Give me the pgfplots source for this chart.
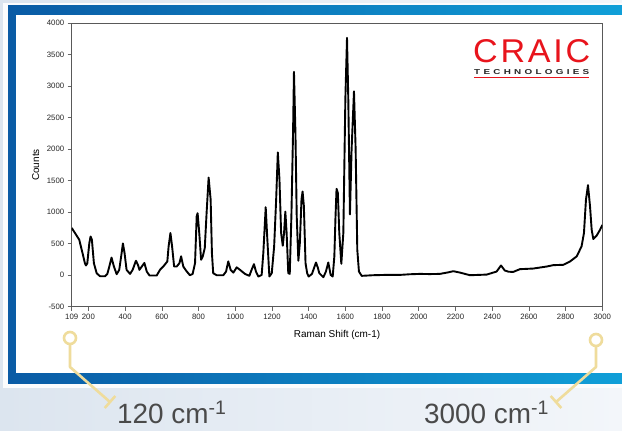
\documentclass[border=0pt]{standalone}
\usepackage{pgfplots}
\pgfplotsset{compat=1.18}
\usepackage{fontspec}
\setmainfont{Liberation Sans}
\usepackage{graphicx}
\definecolor{bgl}{HTML}{DCE5EF}
\definecolor{bgr}{HTML}{F3F6FA}
\definecolor{blueL}{HTML}{0A5BA5}
\definecolor{blueR}{HTML}{109FD8}
\definecolor{gold}{HTML}{EFDC9C}
\definecolor{txtgray}{HTML}{4A4A4A}
\definecolor{logored}{HTML}{E8141C}
\pgfplotstableread{
x y
109 750
127 670
150 564
168 351
181 190
187 155
194 190
205 510
212 615
219 564
230 190
245 32
263 -16
291 -16
303 20
314 138
326 280
339 138
354 16
368 85
381 351
388 505
397 351
408 85
427 21
441 85
459 230
470 165
478 85
491 138
505 195
518 58
533 -5
572 -5
590 85
608 138
630 218
637 457
647 670
656 457
667 138
681 138
696 191
705 300
717 138
732 74
753 0
768 21
781 191
790 936
795 985
804 670
814 245
823 298
834 430
844 990
855 1550
866 1202
873 351
880 32
899 0
917 0
935 0
950 58
962 220
975 85
990 42
1008 125
1026 85
1053 21
1077 -10
1089 85
1102 176
1113 58
1126 -21
1144 5
1153 351
1166 1080
1175 564
1186 -21
1199 32
1212 457
1223 1202
1232 1950
1241 1521
1250 670
1259 468
1266 670
1273 1010
1280 670
1289 32
1297 21
1306 936
1315 2266
1320 3230
1328 2266
1335 936
1344 230
1352 511
1361 1202
1367 1330
1374 1096
1383 191
1392 32
1400 -21
1418 20
1430 120
1440 202
1450 120
1458 32
1480 -32
1494 58
1507 202
1520 5
1531 -21
1540 298
1546 900
1552 1372
1559 1308
1567 670
1578 181
1589 670
1600 2798
1609 3770
1616 2798
1625 965
1634 2000
1647 2920
1656 2000
1665 404
1674 58
1689 -10
1752 0
1820 5
1897 5
1950 15
2006 21
2060 18
2115 21
2160 45
2188 64
2224 42
2279 0
2370 10
2424 58
2448 155
2469 74
2490 55
2515 53
2551 96
2624 106
2697 138
2733 160
2787 165
2824 218
2860 298
2887 457
2900 670
2911 1202
2922 1430
2933 1096
2942 723
2951 574
2969 628
2988 723
3000 798
}\spectrum
\begin{document}
\begin{tikzpicture}[x=1bp,y=1bp]
\useasboundingbox (0,0) rectangle (622,430);
\fill[left color=bgl, right color=bgr] (0,0) rectangle (622,430);
\fill[white!70!bgr] (3,42) rectangle (622,427);
\fill[left color=blueL, right color=blueR] (8,47) rectangle (622,424);
\fill[white] (16,57) rectangle (622,415);
% logo
\node[anchor=south west, inner sep=0, text=logored] at (473,367) {\resizebox{117bp}{23bp}{\addfontfeature{LetterSpace=8}CRAIC}};
\node[anchor=south west, inner sep=0, text=black!85] at (474,355) {\resizebox{115bp}{5bp}{\bfseries T\,\,E\,\,C\,\,H\,\,N\,\,O\,\,L\,\,O\,\,G\,\,I\,\,E\,\,S}};
\draw[logored, line width=1.5bp] (474,352.5) -- (589,352.5);
% annotations
\draw[gold, line width=2.6bp] (70,92) circle (6);
\draw[gold, line width=2.6bp, line join=round] (70,86) -- (70,63) -- (110,28);
\draw[gold, line width=2.6bp] (104.7,22) -- (115.3,34);
\draw[gold, line width=2.6bp] (596,90) circle (6);
\draw[gold, line width=2.6bp, line join=round] (596,84) -- (596,63) -- (556,28);
\draw[gold, line width=2.6bp] (561.3,22) -- (550.7,34);
\node[anchor=base west, inner sep=0, text=txtgray, font=\fontsize{28}{28}\selectfont] at (117,7) {120 cm\textsuperscript{-1}};
\node[anchor=base west, inner sep=0, text=txtgray, font=\fontsize{28}{28}\selectfont] at (424,7) {3000 cm\textsuperscript{-1}};
\begin{axis}[
  at={(71.7bp,123.3bp)}, anchor=south west,
  scale only axis, width=530.6bp, height=283.4bp,
  xmin=109, xmax=3000, ymin=-500, ymax=4000,
  xtick={109,200,400,600,800,1000,1200,1400,1600,1800,2000,2200,2400,2600,2800,3000},
  ytick={-500,0,500,1000,1500,2000,2500,3000,3500,4000},
  xtick pos=bottom, ytick pos=left,
  tick align=outside, major tick length=4bp,
  tick style={black!60, line width=0.6bp},
  axis line style={black!65, line width=0.8bp},
  ticklabel style={font=\fontsize{7.8}{8}\selectfont, text=black!85},
  /pgf/number format/assume math mode=true,
  /pgf/number format/set thousands separator={},
  scaled ticks=false,
  xlabel={Raman Shift (cm-1)},
  ylabel={Counts},
  label style={font=\fontsize{7.8}{8}\selectfont, text=black!85},
  every axis x label/.style={at={(axis description cs:0.5,0)}, yshift=-28bp, anchor=center},
  every axis y label/.style={at={(axis description cs:0,0.5)}, xshift=-36bp, rotate=90, anchor=center},
]
\addplot[black, line width=1.9bp, line join=round] table[x=x,y=y] {\spectrum};
\end{axis}
\end{tikzpicture}
\end{document}
